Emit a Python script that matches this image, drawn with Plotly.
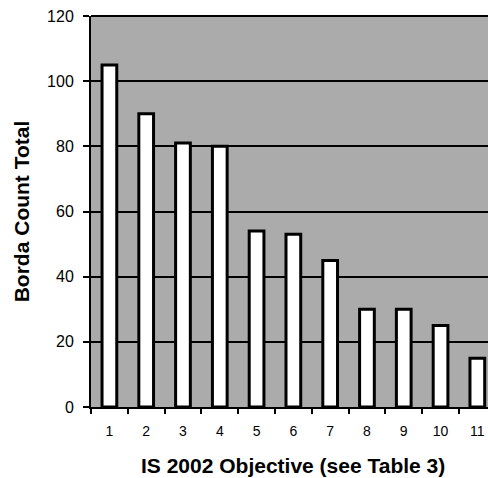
import plotly.graph_objects as go

categories = ["1", "2", "3", "4", "5", "6", "7", "8", "9", "10", "11"]
borda_totals = [105, 90, 81, 80, 54, 53, 45, 30, 30, 25, 15]
y_ticks = [0, 20, 40, 60, 80, 100, 120]

FONT = "Liberation Sans, Arial, sans-serif"

fig = go.Figure()
fig.add_trace(go.Bar(
    x=categories,
    y=borda_totals,
    width=0.40,
    marker=dict(color="white", line=dict(color="black", width=3)),
    showlegend=False,
))

fig.update_layout(
    width=488,
    height=478,
    margin=dict(l=91, r=0, t=16, b=71),
    paper_bgcolor="white",
    plot_bgcolor="#ababab",
    font=dict(family=FONT, color="black"),
    bargap=0.6,
)

fig.update_xaxes(
    type="category",
    range=[-0.5, 10.29],
    tickson="boundaries",
    ticks="outside",
    ticklen=5,
    tickwidth=1.5,
    tickcolor="black",
    showline=True,
    linecolor="black",
    linewidth=2,
    showgrid=False,
    tickfont=dict(size=14, family=FONT),
    ticklabelstandoff=10,
)

fig.update_yaxes(
    range=[0, 120],
    tickvals=y_ticks,
    ticks="outside",
    ticklen=6,
    tickwidth=1.5,
    tickcolor="black",
    showline=True,
    linecolor="black",
    linewidth=2,
    showgrid=True,
    gridcolor="black",
    gridwidth=1.5,
    zeroline=False,
    tickfont=dict(size=16, family=FONT),
    ticklabelstandoff=6,
    title=dict(text="<b>Borda Count Total</b>", font=dict(size=21, family=FONT), standoff=12),
)

# top frame line of plot area
fig.add_shape(type="line", xref="paper", yref="paper", x0=0, x1=1, y0=1, y1=1,
              line=dict(color="black", width=2))

# x-axis title (centred on the full, partly cropped plot)
fig.add_annotation(
    text="<b>IS 2002 Objective (see Table 3)</b>",
    xref="paper", yref="paper", x=0.509, y=0, yshift=-58,
    xanchor="center", yanchor="middle", showarrow=False,
    font=dict(size=21, family=FONT, color="black"),
)

fig.write_html(
    "out.html",
    config={"displayModeBar": False},
    post_script="document.body.style.margin='0';document.documentElement.style.overflow='hidden';",
)
